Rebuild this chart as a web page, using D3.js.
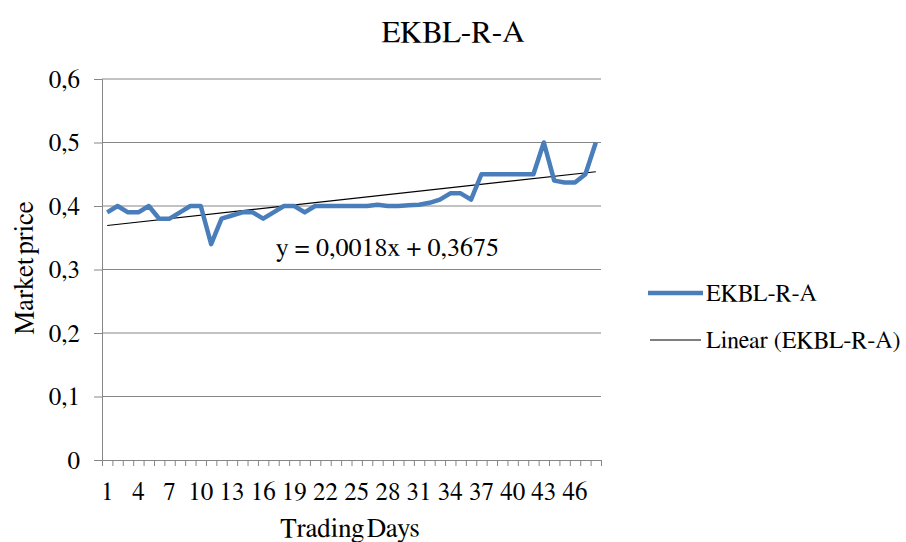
<!DOCTYPE html>
<html>
<head>
<meta charset="utf-8">
<script src="https://cdn.jsdelivr.net/npm/d3@7"></script>
</head>
<body style="margin:0">
<svg id="chart" width="906" height="542"></svg>
<script>
// ---- data ----
const title = "EKBL-R-A";
const seriesName = "EKBL-R-A";
const trendName = "Linear (EKBL-R-A)";
const days = d3.range(1, 49);
const prices = [
  0.39, 0.40, 0.39, 0.39, 0.40, 0.38, 0.38, 0.39, 0.40, 0.40,
  0.34, 0.38, 0.385, 0.39, 0.39, 0.38, 0.39, 0.40, 0.40, 0.39,
  0.40, 0.40, 0.40, 0.40, 0.40, 0.40, 0.402, 0.40, 0.40, 0.401,
  0.402, 0.405, 0.41, 0.42, 0.42, 0.41, 0.45, 0.45, 0.45, 0.45,
  0.45, 0.45, 0.50, 0.44, 0.437, 0.437, 0.45, 0.50
];
const trendSlope = 0.0018;
const trendIntercept = 0.3675;
const trendLabel = "y = 0,0018x + 0,3675";
const yTicks = [0, 0.1, 0.2, 0.3, 0.4, 0.5, 0.6];
const xTickLabels = [1, 4, 7, 10, 13, 16, 19, 22, 25, 28, 31, 34, 37, 40, 43, 46];
const xTitle = "Trading Days";
const yTitle = "Market price";

// ---- layout ----
const FONT = () => "FreeSerif";
const svg = d3.select("#chart");
const plotLeft = 102, plotRight = 601, plotTop = 79, plotBottom = 460;
const blue = "#4a7ebb";
const grid = "#868686";

const x = d3.scaleLinear().domain([0.5, days.length + 0.5]).range([plotLeft, plotRight]);
const y = d3.scaleLinear().domain([0, 0.6]).range([plotBottom, plotTop]);
const fmt = v => (v === 0 ? "0" : d3.format(".1f")(v).replace(".", ","));

// gridlines
svg.append("g").selectAll("line").data(yTicks.filter(v => v > 0)).join("line")
  .attr("x1", plotLeft).attr("x2", plotRight)
  .attr("y1", d => y(d)).attr("y2", d => y(d))
  .attr("stroke", grid).attr("stroke-width", 1);

// y axis
const yAxis = svg.append("g").attr("transform", `translate(${plotLeft},0)`)
  .call(d3.axisLeft(y).tickValues(yTicks).tickFormat(fmt).tickSize(8).tickPadding(14));
yAxis.attr("font-family", null).attr("font-size", null);
yAxis.select(".domain").attr("stroke", grid);
yAxis.selectAll(".tick line").attr("stroke", grid);
yAxis.selectAll(".tick text").style("font-family", FONT).attr("font-size", 25).attr("fill", "#000");

// x axis (category boundaries as ticks)
const xAxis = svg.append("g").attr("transform", `translate(0,${plotBottom})`)
  .call(d3.axisBottom(x).tickValues(d3.range(0.5, days.length + 1, 1)).tickFormat("").tickSize(6).tickSizeOuter(0));
xAxis.select(".domain").attr("stroke", grid);
xAxis.selectAll(".tick line").attr("stroke", grid);

svg.append("g").selectAll("text").data(xTickLabels).join("text")
  .attr("x", d => x(d)).attr("y", 500)
  .attr("text-anchor", "middle").style("font-family", FONT).attr("font-size", 25).attr("fill", "#000")
  .text(d => d);

// trend line
const trendLine = d3.line().x(d => x(d)).y(d => y(trendIntercept + trendSlope * d));
svg.append("path").datum([days[0], days[days.length - 1]])
  .attr("d", trendLine).attr("fill", "none").attr("stroke", "#000").attr("stroke-width", 1.2);

// series line
const line = d3.line().x((d, i) => x(days[i])).y(d => y(d));
svg.append("path").datum(prices)
  .attr("d", line).attr("fill", "none").attr("stroke", blue)
  .attr("stroke-width", 4.5).attr("stroke-linejoin", "round");

// trend label
svg.append("text").attr("x", 276).attr("y", 256)
  .style("font-family", FONT).attr("font-size", 26).attr("fill", "#000")
  .text(trendLabel);

// title
svg.append("text").attr("x", 453).attr("y", 42).attr("text-anchor", "middle")
  .style("font-family", FONT).attr("font-size", 31).attr("fill", "#000").text(title);

// axis titles
svg.append("text").attr("x", 350).attr("y", 537).attr("text-anchor", "middle")
  .style("font-family", FONT).attr("font-size", 27).style("word-spacing", "-4px")
  .attr("fill", "#000").text(xTitle);
svg.append("text").attr("transform", "translate(33,268) rotate(-90)").attr("text-anchor", "middle")
  .style("font-family", FONT).attr("font-size", 27).style("word-spacing", "-4px")
  .attr("fill", "#000").text(yTitle);

// legend
const legend = svg.append("g");
legend.append("line").attr("x1", 648).attr("x2", 703).attr("y1", 293).attr("y2", 293)
  .attr("stroke", blue).attr("stroke-width", 4.5);
legend.append("text").attr("x", 706).attr("y", 301)
  .style("font-family", FONT).attr("font-size", 24).attr("fill", "#000").text(seriesName);
legend.append("line").attr("x1", 650).attr("x2", 701).attr("y1", 340).attr("y2", 340)
  .attr("stroke", "#000").attr("stroke-width", 1.2);
legend.append("text").attr("x", 706).attr("y", 348)
  .style("font-family", FONT).attr("font-size", 24).attr("fill", "#000").text(trendName);
</script>
</body>
</html>
